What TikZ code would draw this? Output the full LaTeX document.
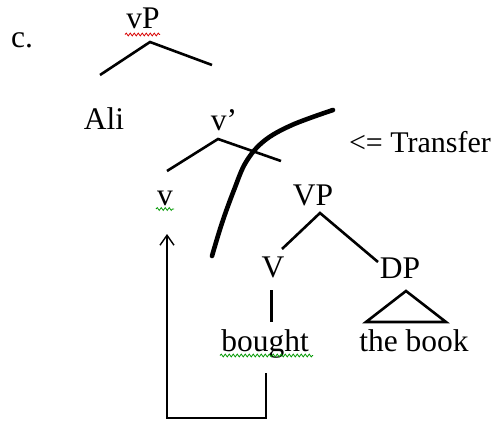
\documentclass[tikz,border=0pt]{standalone}
\usepackage{fontspec}
\setmainfont{Liberation Serif}
\usetikzlibrary{decorations.pathmorphing,arrows.meta}
\begin{document}
\begin{tikzpicture}[x=1pt,y=-1pt,
  lbl/.style={font=\fontsize{31.5}{33}\selectfont, inner sep=0pt, anchor=base},
  branch/.style={line width=2.6pt},
  transfer/.style={line width=4.6pt, line cap=round, line join=round},
  squig/.style={line width=0.8pt, decorate, decoration={snake, amplitude=1.4pt, segment length=4pt}},
  move/.style={line width=1.6pt, -{Straight Barb[length=10pt,width=14pt,line width=1.4pt]}}]
\useasboundingbox (0,0) rectangle (495,422);
\fill[white] (0,0) rectangle (495,422);
% labels
\node[lbl] (c) at (22,48) {c.};
\node[lbl] (vP) at (143,29) {vP};
\node[lbl] (Ali) at (104,130) {Ali};
\node[lbl] (vbar) at (224,131) {v’};
\node[lbl, font=\fontsize{30}{32}\selectfont] (tr) at (420,153) {<= Transfer};
\node[lbl] (v) at (165,205) {v};
\node[lbl] (VP) at (313,205) {VP};
\node[lbl] (V) at (273,277) {V};
\node[lbl] (DP) at (400,278) {DP};
\node[lbl] (bought) at (265,351) {bought};
\node[lbl] (book) at (414,351) {the book};
% squiggles
\draw[squig, red!85!black] (125,34.5) -- (160,34.5);
\draw[squig, green!60!black] (156,209) -- (174,209);
\draw[squig, green!60!black] (220,355.5) -- (313,355.5);
% branch coordinates
\coordinate (vPtop) at (150,42);
\coordinate (vPl) at (100,75);
\coordinate (vPr) at (212,65);
\coordinate (vbtop) at (218,139);
\coordinate (vbl) at (167,171);
\coordinate (vbr) at (281,161);
\coordinate (VPtop) at (320,213);
\coordinate (VPl) at (282,249);
\coordinate (VPr) at (378,262);
\coordinate (Vb) at (271,290);
\coordinate (Vbb) at (271,322);
\coordinate (Ttop) at (406,291);
\coordinate (Tl) at (366,322);
\coordinate (Tr) at (446,322);
\coordinate (mvs) at (266,373);
\coordinate (mvc1) at (266,418);
\coordinate (mvc2) at (167,418);
\coordinate (mve) at (167,234);
% branches
\draw[branch] (vPl) -- (vPtop) -- (vPr);
\draw[branch] (vbl) -- (vbtop) -- (vbr);
\draw[branch] (VPl) -- (VPtop) -- (VPr);
\draw[line width=3pt] (Vb) -- (Vbb);
\draw[branch, line join=miter] (Ttop) -- (Tl) -- (Tr) -- cycle;
% transfer line
\draw[transfer] plot[smooth, tension=0.6] coordinates {(333,110) (292,125) (264,141) (246,162) (234,190) (222,223) (212,256)};
% movement arrow
\draw[move] (mvs) -- (mvc1) -- (mvc2) -- (mve);
\end{tikzpicture}
\end{document}
